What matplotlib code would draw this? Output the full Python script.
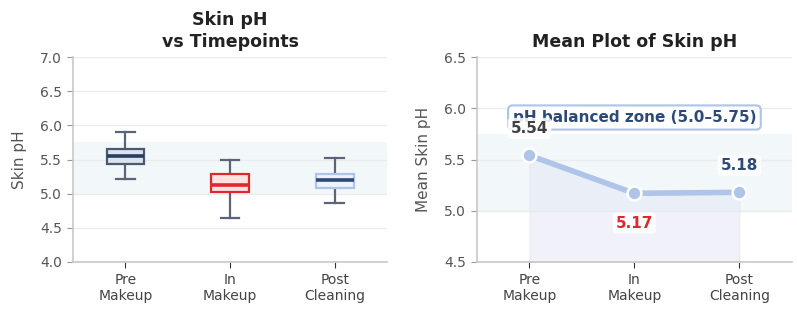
import matplotlib.pyplot as plt

timepoints = ['Pre\nMakeup', 'In\nMakeup', 'Post\nCleaning']

# box stats
whislo = [5.21, 4.65, 4.87]
q1 = [5.43, 5.02, 5.09]
med = [5.55, 5.13, 5.20]
q3 = [5.65, 5.29, 5.29]
whishi = [5.91, 5.50, 5.52]

means = [5.54, 5.17, 5.18]

zone_lo, zone_hi = 5.0, 5.75

box_edge = ['#4a5870', '#e0272c', '#aec4e8']
box_face = ['#dbe3f0', '#fde2e2', '#eef2fb']
med_col = ['#2b3d5c', '#e0272c', '#2c4a78']
label_col = ['#404040', '#e0272c', '#2c4a78']
whisk = '#5a6678'
grey = '#555555'

fig = plt.figure(figsize=(7.97, 3.11), dpi=100)
ax1 = fig.add_axes([0.0916, 0.1576, 0.394, 0.659])
ax2 = fig.add_axes([0.5985, 0.1576, 0.395, 0.659])

for ax in (ax1, ax2):
    ax.spines['top'].set_visible(False)
    ax.spines['right'].set_visible(False)
    ax.spines['left'].set_color('#c8c8c8')
    ax.spines['bottom'].set_color('#c8c8c8')
    ax.spines['left'].set_linewidth(1.2)
    ax.spines['bottom'].set_linewidth(1.2)
    ax.yaxis.grid(True, color='#ececec', linewidth=1)
    ax.set_axisbelow(True)
    ax.axhspan(zone_lo, zone_hi, color='#e3f0f3', alpha=0.45, zorder=0, lw=0)
    ax.tick_params(axis='y', colors='#555555', labelsize=10, length=4.5, color='#999999')
    ax.tick_params(axis='x', labelsize=10, length=4.5, color='#333333', labelcolor='#444444')
    ax.set_xlim(-0.5, 2.5)

# left: box plot
stats = []
for i in range(3):
    stats.append(dict(whislo=whislo[i], q1=q1[i], med=med[i], q3=q3[i], whishi=whishi[i], fliers=[]))
bp = ax1.bxp(stats, positions=[0, 1, 2], widths=0.36, patch_artist=True, showfliers=False, manage_ticks=False)
for i in range(3):
    bp['boxes'][i].set(facecolor=box_face[i], edgecolor=box_edge[i], linewidth=1.6, zorder=3)
    bp['medians'][i].set(color=med_col[i], linewidth=2.6, zorder=4)
    for w in bp['whiskers'][2*i:2*i+2]:
        w.set(color=whisk, linewidth=1.6)
    for c in bp['caps'][2*i:2*i+2]:
        c.set(color=whisk, linewidth=1.6)
ax1.set_ylim(4.0, 7.0)
ax1.set_xticks([0, 1, 2])
ax1.set_xticklabels(timepoints)
ax1.set_ylabel('Skin pH', fontsize=11, color=grey, labelpad=9)
ax1.set_title('Skin pH\nvs Timepoints', fontsize=12.5, fontweight='bold', color='#222222',
              pad=7, linespacing=1.3)

# right: mean plot
x = [0, 1, 2]
ax2.set_ylim(4.5, 6.5)
ax2.fill_between(x, means, 4.5, color='#e6e8f5', alpha=0.6, zorder=1, lw=0.8, edgecolor='#dde3f3')
ax2.plot(x, means, color='#aec4e8', linewidth=4, marker='o', markersize=10,
         markerfacecolor='#aec4e8', markeredgecolor='white', markeredgewidth=1.8, zorder=3)
ax2.text(1, 5.91, 'pH balanced zone (5.0–5.75)', ha='center', va='center', fontsize=11,
         fontweight='bold', color='#2c4a78', zorder=4,
         bbox=dict(boxstyle='round,pad=0.3', facecolor='white', edgecolor='#aec4e8', linewidth=1.5))
offsets = [14, -16, 14]
for i in range(3):
    ax2.annotate(f'{means[i]:.2f}', (x[i], means[i]), xytext=(0, offsets[i]), textcoords='offset points',
                 ha='center', va='bottom' if offsets[i] > 0 else 'top', fontsize=11, fontweight='bold',
                 color=label_col[i], zorder=5,
                 bbox=dict(boxstyle='round,pad=0.2', facecolor='white', edgecolor='none', alpha=0.85))
ax2.set_xticks(x)
ax2.set_xticklabels(timepoints)
ax2.set_yticks([4.5, 5.0, 5.5, 6.0, 6.5])
ax2.set_ylabel('Mean Skin pH', fontsize=11, color=grey, labelpad=9)
ax2.set_title('Mean Plot of Skin pH', fontsize=12.5, fontweight='bold', color='#222222', pad=7)

fig.savefig('out.png', dpi=100)
